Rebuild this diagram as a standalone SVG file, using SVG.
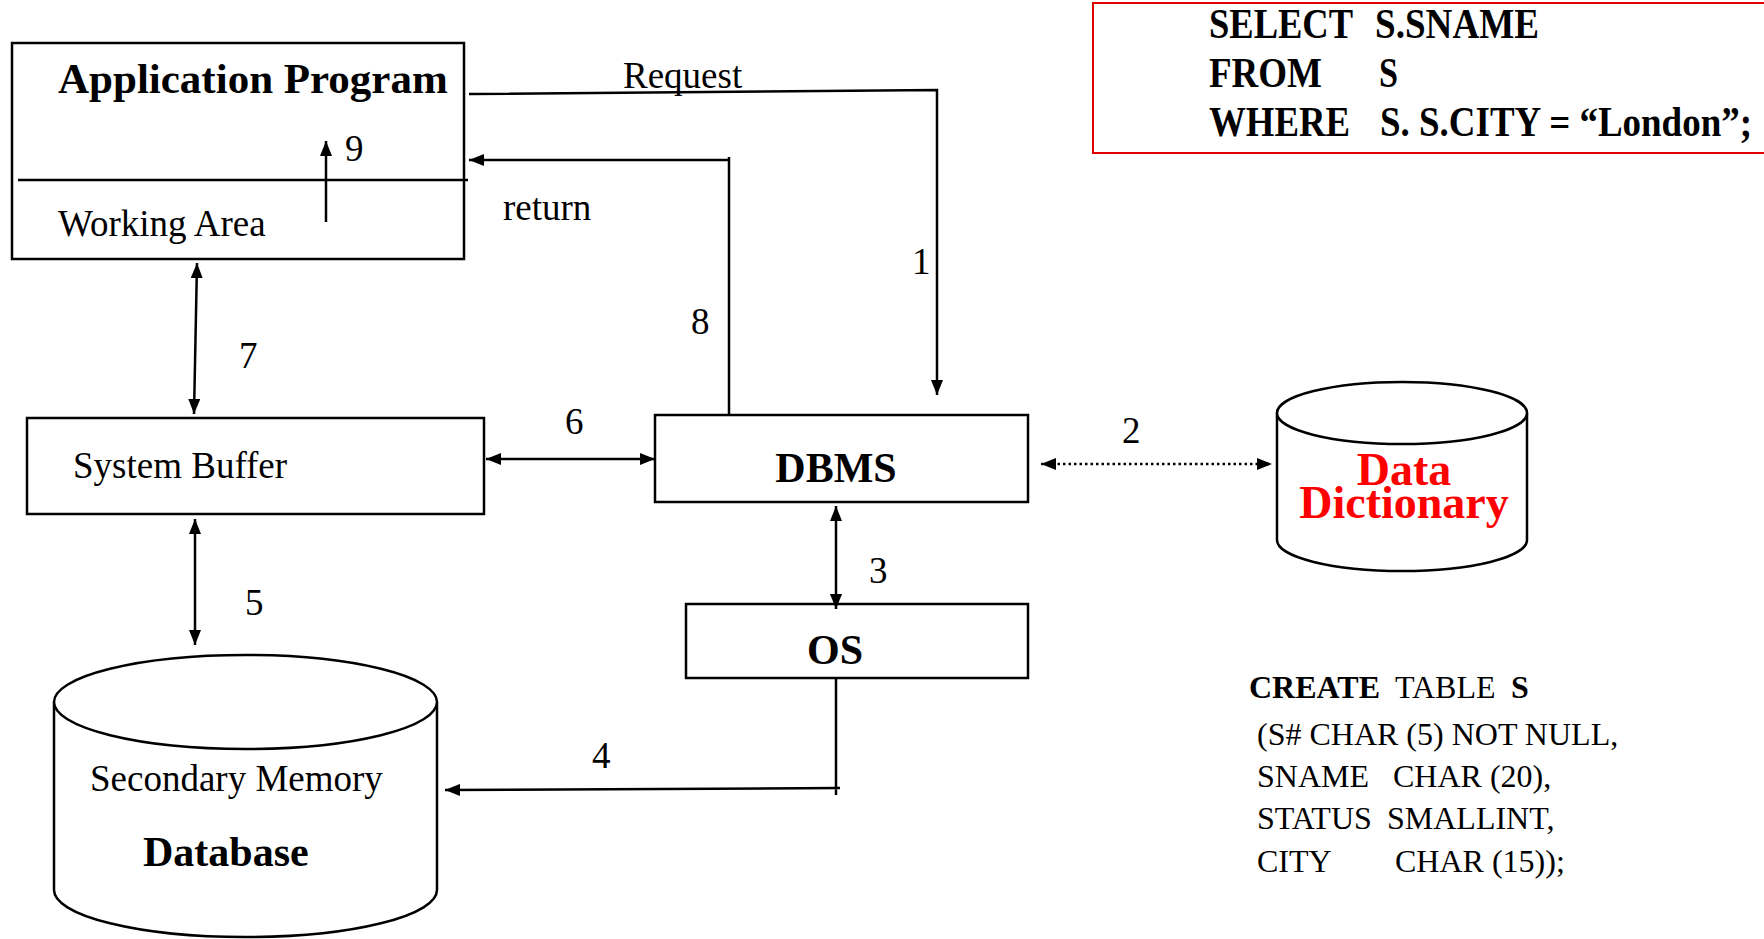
<svg xmlns="http://www.w3.org/2000/svg" width="1764" height="939" viewBox="0 0 1764 939">
<style>
.box{fill:#fff;stroke:#000;stroke-width:2.5}
.ln{fill:none;stroke:#000;stroke-width:2.5}
.t{font-family:"Liberation Serif","Times New Roman",serif;font-size:37px;fill:#000}
.b{font-family:"Liberation Serif","Times New Roman",serif;font-weight:bold;fill:#000}
.sql{font-family:"Liberation Serif","Times New Roman",serif;font-weight:bold;font-size:42px;fill:#000}
.ct{font-family:"Liberation Serif","Times New Roman",serif;font-size:32px;fill:#000}
</style>
<defs>
<marker id="ah" viewBox="0 0 15 12" refX="15" refY="6" markerWidth="15" markerHeight="12" markerUnits="userSpaceOnUse" orient="auto-start-reverse">
<path d="M0,0 L15,6 L0,12 z" fill="#000"/>
</marker>
</defs>
<rect width="1764" height="939" fill="#fff"/>

<g id="sql-select">
<rect x="1093" y="3" width="680" height="150" fill="#fff" stroke="#e00000" stroke-width="2"/>
<text class="sql" x="1209" y="38" textLength="144" lengthAdjust="spacingAndGlyphs">SELECT</text>
<text class="sql" x="1375" y="38" textLength="164" lengthAdjust="spacingAndGlyphs">S.SNAME</text>
<text class="sql" x="1209" y="87" textLength="113" lengthAdjust="spacingAndGlyphs">FROM</text>
<text class="sql" x="1379" y="87" textLength="19" lengthAdjust="spacingAndGlyphs">S</text>
<text class="sql" x="1209" y="136" textLength="141" lengthAdjust="spacingAndGlyphs">WHERE</text>
<text class="sql" x="1380" y="136" textLength="372" lengthAdjust="spacingAndGlyphs">S. S.CITY = “London”;</text>
</g>

<g id="application-program">
<rect class="box" x="12" y="43" width="452" height="216"/>
<line class="ln" x1="18" y1="180" x2="468" y2="180"/>
<text class="b" x="58" y="93" font-size="43">Application Program</text>
<text class="t" x="58" y="236">Working Area</text>
<text class="t" x="345" y="161">9</text>
</g>

<g id="system-buffer">
<rect class="box" x="27" y="418" width="457" height="96"/>
<text class="t" x="73" y="478">System Buffer</text>
</g>

<g id="dbms">
<rect class="box" x="655" y="415" width="373" height="87"/>
<text class="b" x="836" y="482" font-size="42" text-anchor="middle">DBMS</text>
</g>

<g id="os">
<rect class="box" x="686" y="604" width="342" height="74"/>
<text class="b" x="835" y="664" font-size="42" text-anchor="middle">OS</text>
</g>

<g id="data-dictionary">
<path class="box" d="M1277,413 V540 A125,31 0 0 0 1527,540 V413"/>
<ellipse class="box" cx="1402" cy="413" rx="125" ry="31"/>
<text class="b" x="1404" y="485" font-size="46" text-anchor="middle" style="fill:#ff0000">Data</text>
<text class="b" x="1404" y="518" font-size="46" text-anchor="middle" style="fill:#ff0000">Dictionary</text>
</g>

<g id="secondary-memory">
<path class="box" d="M54,702 V890 A191,47 0 0 0 437,890 V702"/>
<ellipse class="box" cx="245.5" cy="702" rx="191.5" ry="47"/>
<text class="t" x="90" y="791">Secondary Memory</text>
<text class="b" x="143" y="866" font-size="42">Database</text>
</g>

<g id="create-table">
<text class="ct" x="1249" y="698" font-weight="bold">CREATE</text>
<text class="ct" x="1395" y="698">TABLE</text>
<text class="ct" x="1511" y="698" font-weight="bold">S</text>
<text class="ct" x="1257" y="745">(S# CHAR (5) NOT NULL,</text>
<text class="ct" x="1257" y="787">SNAME</text>
<text class="ct" x="1393" y="787">CHAR (20),</text>
<text class="ct" x="1257" y="829">STATUS</text>
<text class="ct" x="1387" y="829">SMALLINT,</text>
<text class="ct" x="1257" y="872">CITY</text>
<text class="ct" x="1395" y="872">CHAR (15));</text>
</g>

<g id="connectors">
<polyline class="ln" points="469,94 937,90 937,395" marker-end="url(#ah)"/>
<path class="ln" d="M729,415 V157 M729,160 H469" marker-end="url(#ah)"/>
<line class="ln" x1="326" y1="222" x2="326" y2="141" marker-end="url(#ah)"/>
<line class="ln" x1="197" y1="263" x2="194" y2="414" marker-start="url(#ah)" marker-end="url(#ah)"/>
<line class="ln" x1="486" y1="459" x2="655" y2="459" marker-start="url(#ah)" marker-end="url(#ah)"/>
<line class="ln" x1="1041" y1="464" x2="1272" y2="464" stroke-dasharray="2.5 3" marker-start="url(#ah)" marker-end="url(#ah)"/>
<line class="ln" x1="836" y1="506" x2="836" y2="609" marker-start="url(#ah)" marker-end="url(#ah)"/>
<line class="ln" x1="195" y1="519" x2="195" y2="645" marker-start="url(#ah)" marker-end="url(#ah)"/>
<path class="ln" d="M836,678 V795 M840,788 L445,790" marker-end="url(#ah)"/>
<text class="t" x="623" y="88">Request</text>
<text class="t" x="503" y="220">return</text>
<text class="t" x="912" y="274">1</text>
<text class="t" x="691" y="334">8</text>
<text class="t" x="239" y="368">7</text>
<text class="t" x="565" y="434">6</text>
<text class="t" x="1122" y="443">2</text>
<text class="t" x="869" y="583">3</text>
<text class="t" x="245" y="615">5</text>
<text class="t" x="592" y="768">4</text>
</g>
</svg>
